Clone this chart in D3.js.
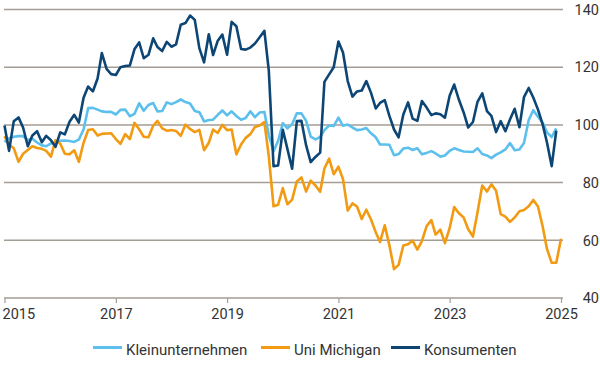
<!DOCTYPE html>
<html>
<head>
<meta charset="utf-8">
<script src="https://cdn.jsdelivr.net/npm/d3@7"></script>
<style>
  html, body { margin: 0; padding: 0; background: #ffffff; }
  svg { display: block; }
  text { font-family: Roboto, "Noto Sans", sans-serif; fill: #333333; }
</style>
</head>
<body>
<div id="chart"></div>
<script>
// Monthly data, first value = June 2015
const startMonth = "2015-06";
const seriesNames = ["Kleinunternehmen", "Uni Michigan", "Konsumenten"];

// Kleinunternehmen: Jun 2015 – May 2025
const kleinunternehmen = [
  94.1, 95.4, 95.9, 96.1, 96.1, 94.8, 95.2,
  93.9, 92.9, 92.6, 93.6, 93.8, 94.5, 94.6, 94.4, 94.1, 94.9, 98.4, 105.8,
  105.9, 105.3, 104.7, 104.5, 104.5, 103.6, 105.2, 105.3, 103.0, 103.8, 107.5, 104.9,
  106.9, 107.6, 104.7, 104.8, 107.8, 107.2, 107.9, 108.8, 107.9, 107.4, 104.8, 104.4,
  101.2, 101.7, 101.8, 103.5, 105.0, 103.3, 104.7, 103.1, 101.8, 102.4, 104.7, 102.7,
  104.3, 104.5, 96.4, 90.9, 94.4, 100.6, 98.8, 100.2, 104.0, 104.0, 101.4, 95.9,
  95.0, 95.8, 98.2, 99.8, 99.6, 102.5, 99.7, 100.1, 99.1, 98.2, 98.4, 98.9,
  97.1, 95.7, 93.2, 93.2, 93.1, 89.5, 89.9, 91.8, 92.1, 91.3, 91.9, 89.8,
  90.3, 90.9, 90.1, 89.0, 89.4, 91.0, 91.9, 91.3, 90.8, 90.7, 90.6, 91.9,
  89.9, 89.4, 88.5, 89.7, 90.5, 91.5, 93.7, 91.2, 91.5, 93.7, 101.7, 105.1,
  102.8, 100.7, 97.4, 95.8, 98.8
];

// Uni Michigan: Jun 2015 – Jun 2025
const uniMichigan = [
  96.1, 93.1, 91.9, 87.2, 90.0, 91.3, 92.6,
  92.0, 91.7, 91.0, 89.0, 94.7, 93.5, 90.0, 89.8, 91.2, 87.2, 93.8, 98.2,
  98.5, 96.3, 96.9, 97.0, 97.1, 95.1, 93.4, 96.8, 95.1, 100.7, 98.5, 95.9,
  95.7, 99.7, 101.4, 98.8, 98.0, 98.2, 97.9, 96.2, 100.1, 98.6, 97.5, 98.3,
  91.2, 93.8, 98.4, 97.2, 100.0, 98.2, 98.4, 89.8, 93.2, 95.5, 96.8, 99.3,
  99.8, 101.0, 89.1, 71.8, 72.3, 78.1, 72.5, 74.1, 80.4, 81.8, 76.9, 80.7,
  79.0, 76.8, 84.9, 88.3, 82.9, 85.5, 81.2, 70.3, 72.8, 71.7, 67.4, 70.6,
  67.2, 62.8, 59.4, 65.2, 58.4, 50.0, 51.5, 58.2, 58.6, 59.9, 56.8, 59.7,
  64.9, 67.0, 62.0, 63.7, 59.0, 64.2, 71.5, 69.4, 67.9, 63.8, 61.3, 69.7,
  79.0, 76.9, 79.4, 77.2, 69.1, 68.2, 66.4, 67.9, 70.1, 70.5, 71.8, 74.0,
  71.7, 64.7, 57.0, 52.2, 52.2, 60.5
];

// Konsumenten: Jun 2015 – May 2025
const konsumenten = [
  99.8, 91.0, 101.3, 102.6, 99.1, 92.6, 96.3,
  97.8, 94.0, 96.2, 94.7, 92.4, 97.4, 96.7, 101.1, 103.5, 100.8, 109.4, 113.3,
  111.6, 116.1, 124.9, 119.4, 117.6, 117.3, 120.0, 120.4, 120.6, 126.2, 128.6, 123.1,
  124.3, 130.0, 127.0, 125.6, 128.8, 127.1, 127.9, 134.7, 135.3, 137.9, 136.4, 126.6,
  121.7, 131.4, 124.2, 129.2, 131.3, 124.3, 135.7, 134.2, 126.3, 126.1, 126.8, 128.2,
  130.4, 132.6, 118.8, 85.7, 85.9, 98.3, 91.7, 84.8, 101.3, 101.4, 92.9, 87.1,
  88.9, 90.4, 114.9, 117.5, 120.0, 128.9, 125.1, 115.2, 109.8, 111.6, 111.9, 115.2,
  111.1, 105.7, 107.6, 108.6, 103.2, 98.4, 95.7, 103.6, 107.8, 102.2, 101.4, 108.3,
  106.0, 103.4, 104.0, 103.7, 102.5, 110.1, 114.0, 108.7, 104.3, 99.1, 101.0, 108.0,
  110.9, 104.8, 103.1, 97.5, 101.3, 97.8, 101.9, 105.6, 99.2, 109.6, 112.8, 109.5,
  105.3, 100.1, 93.9, 85.7, 98.0
];

const yTicks = [40, 60, 80, 100, 120, 140];
const xTickLabels = ["2015", "2017", "2019", "2021", "2023", "2025"];
const colors = ["#5cbfec", "#f29a12", "#0d4674"];

const W = 600, H = 380;
const svg = d3.select("#chart").append("svg").attr("width", W).attr("height", H);

const parseMonth = d3.timeParse("%Y-%m");
const t0 = parseMonth(startMonth);
const toPoints = arr => arr.map((v, i) => ({ date: d3.timeMonth.offset(t0, i), value: v }));
const data = [kleinunternehmen, uniMichigan, konsumenten].map(toPoints);

const x = d3.scaleTime()
  .domain([t0, d3.timeMonth.offset(t0, 120)])
  .range([4.5, 561]);
const y = d3.scaleLinear().domain([40, 140]).range([298, 9.5]);

const gridColor = "#a39e95";
const plotLeft = 4, plotRight = 563;

// Gridlines
svg.append("g").selectAll("line")
  .data(yTicks.filter(d => d > 40))
  .join("line")
  .attr("x1", plotLeft).attr("x2", plotRight)
  .attr("y1", d => y(d)).attr("y2", d => y(d))
  .attr("stroke", gridColor).attr("stroke-width", 1.5);

// Right axis labels
svg.append("g").selectAll("text")
  .data(yTicks)
  .join("text")
  .attr("x", 599)
  .attr("y", d => y(d))
  .attr("dy", "0.36em")
  .attr("text-anchor", "end")
  .style("font-size", "14.5px")
  .text(d => d);

// Bottom axis
const tickDates = xTickLabels.map(s => d3.timeMonth.offset(parseMonth(s + "-06"), 0));
const xAxis = d3.axisBottom(x)
  .tickValues(tickDates)
  .tickSize(5)
  .tickPadding(6)
  .tickFormat((d, i) => xTickLabels[i]);
const gx = svg.append("g").attr("transform", `translate(0,${y(40)})`).call(xAxis);
gx.select(".domain").remove();
gx.insert("line", ":first-child")
  .attr("x1", plotLeft).attr("x2", plotRight)
  .attr("y1", 0).attr("y2", 0)
  .attr("stroke", gridColor).attr("stroke-width", 1.5);
gx.selectAll(".tick line").attr("stroke", gridColor).attr("stroke-width", 1.2);
gx.selectAll(".tick text")
  .attr("fill", "#333333")
  .style("font-family", "Roboto, 'Noto Sans', sans-serif")
  .style("font-size", "14.5px");
// keep first label inside the frame
gx.selectAll(".tick").filter((d, i) => i === 0).select("text")
  .attr("text-anchor", "start")
  .attr("x", -2.5);

// Lines
const line = d3.line().x(d => x(d.date)).y(d => y(d.value));
svg.append("g").selectAll("path")
  .data(data)
  .join("path")
  .attr("d", line)
  .attr("fill", "none")
  .attr("stroke", (d, i) => colors[i])
  .attr("stroke-width", 2.6)
  .attr("stroke-linejoin", "round");

// Legend
const legendX = [93, 261, 391];
const lg = svg.append("g").selectAll("g")
  .data(seriesNames)
  .join("g")
  .attr("transform", (d, i) => `translate(${legendX[i]},347.5)`);
lg.append("line")
  .attr("x1", 0).attr("x2", 29)
  .attr("stroke", (d, i) => colors[i])
  .attr("stroke-width", 3);
lg.append("text")
  .attr("x", 33)
  .attr("y", 7)
  .style("font-size", "15px")
  .text(d => d);
</script>
</body>
</html>
